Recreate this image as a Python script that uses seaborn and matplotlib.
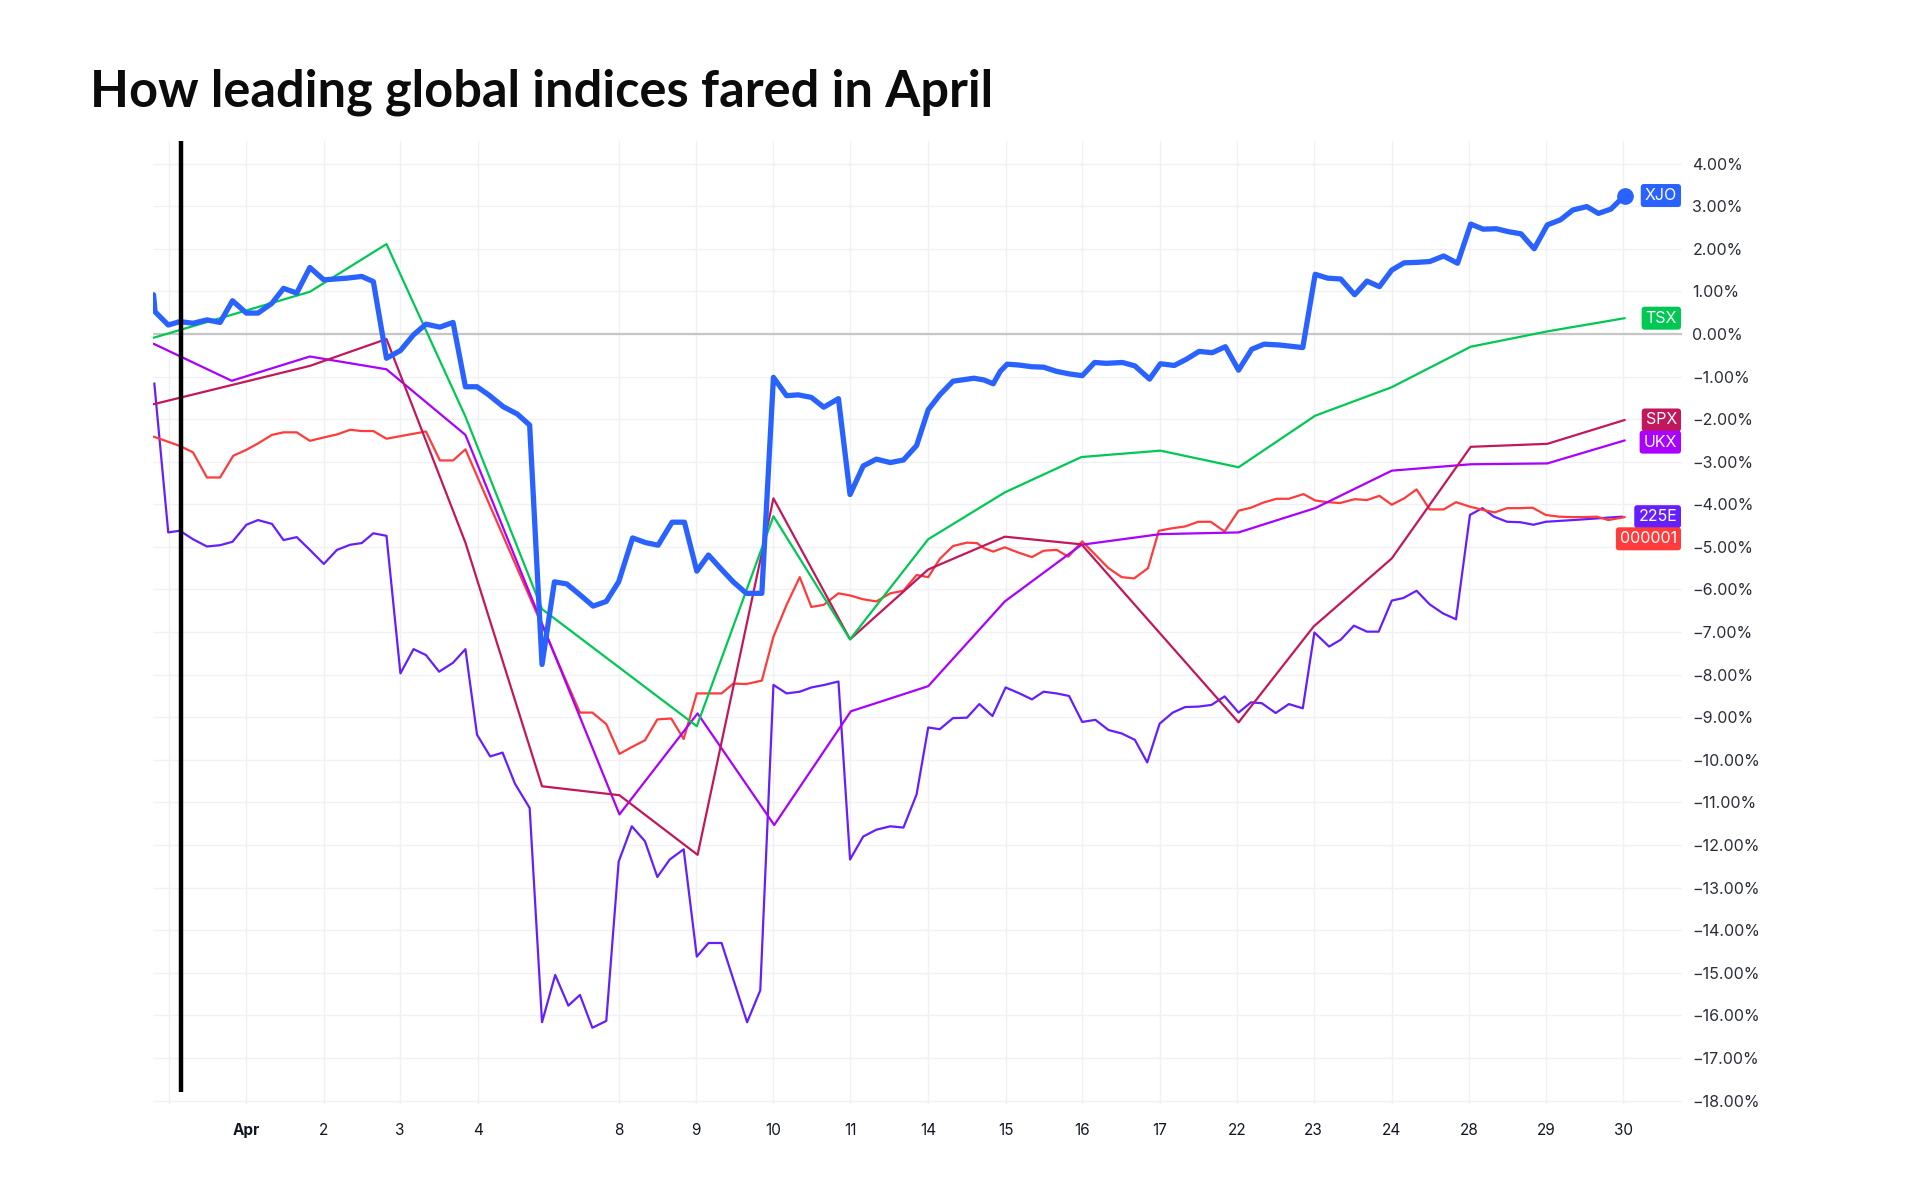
import matplotlib
matplotlib.use("Agg")
import matplotlib.pyplot as plt
import seaborn as sns
import pandas as pd
from matplotlib.transforms import blended_transform_factory

# ---------------- data (x = trading-session index, y = % change) ----------------
tick_pos = [0.0, 1.0, 2.0, 2.98, 3.99, 5.81, 6.81, 7.81, 8.80, 9.81, 10.81,
            11.80, 12.80, 13.80, 14.79, 15.80, 16.80, 17.79, 18.79]
tick_labels = ["", "Apr", "2", "3", "4", "8", "9", "10", "11", "14", "15",
               "16", "17", "22", "23", "24", "28", "29", "30"]
y_ticks = list(range(-18, 5))

xjo_x = [-0.20, -0.18, -0.01, 0.14, 0.31, 0.49, 0.66, 0.82, 1.00, 1.15, 1.33, 1.48, 1.65,
         1.82, 2.00, 2.30, 2.49, 2.64, 2.81, 2.99, 3.16, 3.32, 3.50, 3.67, 3.83, 3.98,
         4.13, 4.32, 4.50, 4.66, 4.82, 4.98, 5.14, 5.32, 5.48, 5.65, 5.81, 5.99, 6.16,
         6.32, 6.50, 6.66, 6.82, 6.97, 7.14, 7.29, 7.46, 7.66, 7.81, 7.98, 8.13, 8.30,
         8.46, 8.65, 8.80, 8.97, 9.14, 9.32, 9.49, 9.66, 9.81, 9.96, 10.13, 10.40,
         10.53, 10.65, 10.74, 10.83, 10.98, 11.15, 11.30, 11.47, 11.64, 11.80, 11.96,
         12.11, 12.32, 12.48, 12.67, 12.81, 12.99, 13.15, 13.31, 13.48, 13.65, 13.82,
         13.99, 14.15, 14.35, 14.65, 14.81, 14.97, 15.14, 15.32, 15.48, 15.64, 15.80,
         15.96, 16.12, 16.29, 16.47, 16.65, 16.82, 16.98, 17.15, 17.31, 17.47, 17.64,
         17.81, 17.98, 18.14, 18.32, 18.47, 18.63, 18.81]
xjo_y = [0.92, 0.52, 0.21, 0.29, 0.25, 0.33, 0.27, 0.78, 0.49, 0.49, 0.72, 1.07, 0.96,
         1.56, 1.27, 1.31, 1.35, 1.23, -0.57, -0.39, -0.02, 0.23, 0.16, 0.27, -1.24, -1.24,
         -1.43, -1.71, -1.88, -2.14, -7.76, -5.82, -5.87, -6.14, -6.39, -6.28, -5.82, -4.79,
         -4.90, -4.96, -4.42, -4.42, -5.57, -5.19, -5.53, -5.82, -6.09, -6.09, -1.02, -1.45,
         -1.43, -1.49, -1.72, -1.52, -3.77, -3.10, -2.94, -3.02, -2.96, -2.62, -1.78, -1.43,
         -1.11, -1.04, -1.08, -1.17, -0.88, -0.71, -0.73, -0.77, -0.78, -0.88, -0.94, -0.98,
         -0.67, -0.69, -0.67, -0.75, -1.06, -0.70, -0.74, -0.59, -0.41, -0.44, -0.30, -0.85,
         -0.36, -0.24, -0.26, -0.32, 1.40, 1.31, 1.29, 0.92, 1.24, 1.11, 1.50, 1.67, 1.68,
         1.70, 1.83, 1.66, 2.58, 2.46, 2.47, 2.40, 2.35, 2.00, 2.56, 2.68, 2.91, 2.99, 2.83,
         2.93, 3.25]

tsx_x = [-0.20, 1.82, 2.81, 3.83, 4.82, 6.82, 7.81, 8.80, 9.81, 10.80, 11.79, 12.81,
         13.82, 14.81, 15.80, 16.82, 17.81, 18.81]
tsx_y = [-0.09, 0.99, 2.11, -1.94, -6.46, -9.21, -4.28, -7.17, -4.82, -3.72, -2.89, -2.74,
         -3.13, -1.92, -1.25, -0.30, 0.06, 0.37]

spx_x = [-0.20, 1.82, 2.81, 3.83, 4.82, 5.82, 6.83, 7.81, 8.80, 9.81, 10.80, 11.79,
         13.82, 14.79, 15.80, 16.82, 17.81, 18.81]
spx_y = [-1.65, -0.75, -0.12, -4.90, -10.62, -10.83, -12.23, -3.86, -7.17, -5.53, -4.76,
         -4.94, -9.12, -6.87, -5.27, -2.65, -2.58, -2.02]

ukx_x = [-0.20, 0.81, 1.82, 2.81, 3.83, 5.82, 6.83, 7.82, 8.81, 9.81, 10.80, 11.79,
         12.81, 13.82, 14.81, 15.80, 16.82, 17.81, 18.81]
ukx_y = [-0.23, -1.10, -0.53, -0.83, -2.37, -11.28, -8.91, -11.53, -8.86, -8.27, -6.28,
         -4.95, -4.70, -4.66, -4.09, -3.21, -3.06, -3.04, -2.50]

n225_x = [-0.19, -0.01, 0.14, 0.31, 0.49, 0.66, 0.82, 1.00, 1.15, 1.33, 1.48, 1.65, 1.82,
          2.00, 2.17, 2.34, 2.49, 2.64, 2.81, 2.99, 3.16, 3.32, 3.49, 3.67, 3.83, 3.98,
          4.15, 4.31, 4.47, 4.66, 4.82, 4.99, 5.16, 5.31, 5.47, 5.65, 5.81, 5.98, 6.15,
          6.31, 6.47, 6.65, 6.82, 6.97, 7.14, 7.47, 7.64, 7.81, 7.98, 8.15, 8.30, 8.47,
          8.65, 8.80, 8.97, 9.14, 9.32, 9.49, 9.66, 9.81, 9.96, 10.13, 10.31, 10.47,
          10.64, 10.81, 10.99, 11.15, 11.30, 11.47, 11.63, 11.80, 11.97, 12.14, 12.31,
          12.48, 12.64, 12.80, 12.97, 13.13, 13.30, 13.47, 13.64, 13.82, 13.98, 14.12,
          14.30, 14.47, 14.65, 14.80, 14.99, 15.14, 15.31, 15.48, 15.63, 15.80, 15.95,
          16.12, 16.29, 16.46, 16.63, 16.81, 16.97, 17.12, 17.29, 17.46, 17.63, 17.79,
          18.14, 18.46, 18.78]
n225_y = [-1.16, -4.66, -4.62, -4.82, -4.99, -4.96, -4.88, -4.48, -4.37, -4.46, -4.84, -4.77,
          -5.07, -5.40, -5.07, -4.95, -4.91, -4.68, -4.74, -7.97, -7.40, -7.54, -7.93, -7.72,
          -7.40, -9.41, -9.92, -9.83, -10.56, -11.13, -16.16, -15.05, -15.77, -15.52, -16.29,
          -16.13, -12.39, -11.56, -11.91, -12.75, -12.34, -12.10, -14.62, -14.30, -14.30,
          -16.16, -15.41, -8.24, -8.44, -8.40, -8.30, -8.24, -8.16, -12.34, -11.80, -11.64,
          -11.56, -11.59, -10.81, -9.24, -9.28, -9.02, -9.01, -8.69, -8.97, -8.30, -8.44,
          -8.58, -8.40, -8.44, -8.50, -9.11, -9.06, -9.30, -9.38, -9.53, -10.06, -9.15, -8.89,
          -8.76, -8.75, -8.71, -8.51, -8.89, -8.65, -8.67, -8.90, -8.69, -8.79, -7.01, -7.34,
          -7.18, -6.85, -6.99, -6.99, -6.26, -6.20, -6.03, -6.35, -6.56, -6.70, -4.25, -4.09,
          -4.29, -4.41, -4.42, -4.48, -4.41, -4.37, -4.33, -4.29]

sse_x = [-0.20, 0.14, 0.31, 0.49, 0.66, 0.83, 1.00, 1.15, 1.33, 1.48, 1.65, 1.82, 2.00,
         2.17, 2.34, 2.49, 2.64, 2.81, 3.32, 3.50, 3.67, 3.83, 5.31, 5.47, 5.65, 5.82,
         5.98, 6.15, 6.31, 6.49, 6.65, 6.82, 6.97, 7.14, 7.29, 7.46, 7.66, 7.81, 7.98,
         8.15, 8.30, 8.46, 8.65, 8.80, 8.97, 9.14, 9.32, 9.49, 9.66, 9.81, 9.96, 10.13,
         10.31, 10.44, 10.53, 10.65, 10.80, 10.97, 11.15, 11.30, 11.47, 11.62, 11.80,
         12.14, 12.31, 12.47, 12.65, 12.79, 12.97, 13.13, 13.30, 13.46, 13.64, 13.82,
         13.98, 14.14, 14.31, 14.47, 14.66, 14.81, 14.97, 15.13, 15.32, 15.48, 15.64,
         15.80, 15.96, 16.12, 16.29, 16.47, 16.63, 16.80, 16.97, 17.13, 17.29, 17.45,
         17.62, 17.79, 17.96, 18.12, 18.29, 18.45, 18.60, 18.81]
sse_y = [-2.41, -2.63, -2.78, -3.37, -3.37, -2.86, -2.72, -2.57, -2.37, -2.31, -2.31, -2.51,
         -2.43, -2.36, -2.25, -2.28, -2.28, -2.46, -2.29, -2.97, -2.97, -2.71, -8.89, -8.89,
         -9.16, -9.86, -9.70, -9.54, -9.05, -9.03, -9.51, -8.44, -8.44, -8.44, -8.21, -8.22,
         -8.14, -7.11, -6.36, -5.71, -6.41, -6.36, -6.09, -6.14, -6.23, -6.28, -6.09, -6.03,
         -5.66, -5.71, -5.28, -4.98, -4.90, -4.91, -5.03, -5.11, -5.01, -5.13, -5.24, -5.09,
         -5.07, -5.23, -4.87, -5.50, -5.71, -5.74, -5.50, -4.62, -4.56, -4.52, -4.41, -4.41,
         -4.64, -4.15, -4.08, -3.96, -3.87, -3.87, -3.76, -3.91, -3.95, -3.97, -3.88, -3.90,
         -3.80, -4.01, -3.86, -3.65, -4.12, -4.12, -3.95, -4.05, -4.13, -4.19, -4.09, -4.09,
         -4.08, -4.25, -4.29, -4.30, -4.30, -4.29, -4.37, -4.30]

series_names = ["XJO", "TSX", "SPX", "UKX", "225E", "000001"]
cursor_x = 0.155

# ---------------- styling ----------------
colors = {"XJO": "#2962FF", "TSX": "#00C853", "SPX": "#C2185B",
          "UKX": "#AA00FF", "225E": "#651FFF", "000001": "#FF3B3B"}
widths = {"XJO": 3.8, "TSX": 1.6, "SPX": 1.6, "UKX": 1.6, "225E": 1.6, "000001": 1.6}

data = {"XJO": (xjo_x, xjo_y), "TSX": (tsx_x, tsx_y), "SPX": (spx_x, spx_y),
        "UKX": (ukx_x, ukx_y), "225E": (n225_x, n225_y), "000001": (sse_x, sse_y)}
frames = [pd.DataFrame({"x": xs, "y": ys, "series": name, "order": range(len(xs))})
          for name, (xs, ys) in data.items()]
df = pd.concat(frames, ignore_index=True)

sns.set_theme(style="white")
plt.rcParams['font.family'] = ['Inter', 'DejaVu Sans']

W, H = 1920, 1200
fig = plt.figure(figsize=(W / 100, H / 100), dpi=100)
L, R, T, B = 153, 1682, 141, 1104
ax = fig.add_axes([L / W, 1 - B / H, (R - L) / W, (B - T) / H])

ax.set_xlim(-0.207, 19.55)
ax.set_ylim(-18.08, 4.53)

# grid & ticks
ax.set_xticks(tick_pos)
ax.set_xticklabels(tick_labels)
ax.set_yticks(y_ticks)
ax.set_yticklabels([f"{v:.2f}%".replace("-", "\u2212") for v in y_ticks])
ax.grid(True, color="#f0f1f5", linewidth=1.0, zorder=0)
for s in ax.spines.values():
    s.set_visible(False)
ax.yaxis.tick_right()
ax.tick_params(axis="y", length=0, pad=7.5, labelsize=11.5, labelcolor="#2a2e39")
ax.tick_params(axis="x", length=0, pad=14, labelsize=11, labelcolor="#131722")
for lab in ax.get_xticklabels():
    if lab.get_text() == "Apr":
        lab.set_fontweight("bold")

ax.axhline(0, color="#c6c6c6", linewidth=1.6, zorder=1)

draw_order = ["225E", "000001", "UKX", "SPX", "TSX", "XJO"]
for name in draw_order:
    sub = df[df["series"] == name]
    sns.lineplot(data=sub, x="x", y="y", ax=ax, color=colors[name],
                 linewidth=widths[name], sort=False, estimator=None,
                 zorder=3 if name != "XJO" else 5, legend=False)

ax.plot(xjo_x[-1:], xjo_y[-1:], marker="o", markersize=11, color=colors["XJO"], zorder=6)

# cursor line
ax.axvline(cursor_x, ymin=(-17.8 + 18.08) / (4.53 + 18.08), ymax=1.0,
           color="black", linewidth=3.2, zorder=7, solid_capstyle="butt")

ax.set_xlabel("")
ax.set_ylabel("")

# end tags with overlap resolution
lasts = [(name, data[name][1][-1]) for name in series_names]
lasts.sort(key=lambda t: -t[1])
min_sep = 0.52
placed = []
for name, v in lasts:
    y = v
    if placed and placed[-1][1] - y < min_sep:
        y = placed[-1][1] - min_sep
    placed.append((name, y))
trans = blended_transform_factory(ax.transAxes, ax.transData)
for name, y in placed:
    ax.text(1 - 5 / (R - L), y, name, transform=trans, ha="right", va="center",
            color="white", fontsize=11.5, zorder=8,
            bbox=dict(boxstyle="round,pad=0.25,rounding_size=0.2",
                      fc=colors[name], ec="none"))

fig.text(90 / W, 1 - 107 / H, "How leading global indices fared in April",
         fontfamily=["Lato", "DejaVu Sans"], fontweight="bold", fontsize=36.4,
         va="baseline", ha="left", color="#0b0b0b")

fig.savefig("out.png", dpi=100, facecolor="white")
